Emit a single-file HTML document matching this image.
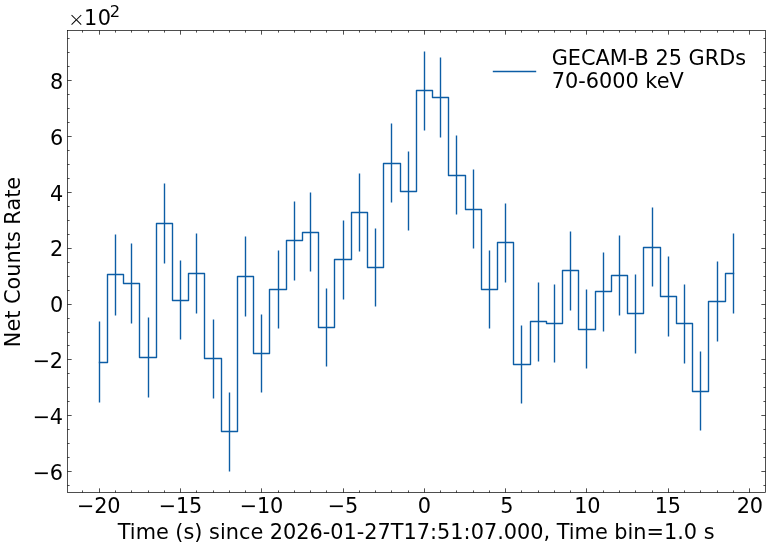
<!DOCTYPE html>
<html lang="en"><head><meta charset="utf-8"><title>GECAM-B light curve</title>
<style>
html,body{margin:0;padding:0;background:#fff;}
body{width:769px;height:547px;overflow:hidden;}
svg{display:block;}
text{font-family:"DejaVu Sans","Liberation Sans",sans-serif;font-size:20.83px;fill:#000;}
</style></head><body>
<svg width="769" height="547" viewBox="0 0 769 547">
<rect x="0" y="0" width="769" height="547" fill="#fff"/>
<path d="M82.50 492.50v-2.08M82.50 30.50v2.08M99.50 492.50v-4.17M99.50 30.50v4.17M115.50 492.50v-2.08M115.50 30.50v2.08M131.50 492.50v-2.08M131.50 30.50v2.08M148.50 492.50v-2.08M148.50 30.50v2.08M164.50 492.50v-2.08M164.50 30.50v2.08M180.50 492.50v-4.17M180.50 30.50v4.17M196.50 492.50v-2.08M196.50 30.50v2.08M213.50 492.50v-2.08M213.50 30.50v2.08M229.50 492.50v-2.08M229.50 30.50v2.08M245.50 492.50v-2.08M245.50 30.50v2.08M261.50 492.50v-4.17M261.50 30.50v4.17M278.50 492.50v-2.08M278.50 30.50v2.08M294.50 492.50v-2.08M294.50 30.50v2.08M310.50 492.50v-2.08M310.50 30.50v2.08M326.50 492.50v-2.08M326.50 30.50v2.08M343.50 492.50v-4.17M343.50 30.50v4.17M359.50 492.50v-2.08M359.50 30.50v2.08M375.50 492.50v-2.08M375.50 30.50v2.08M391.50 492.50v-2.08M391.50 30.50v2.08M408.50 492.50v-2.08M408.50 30.50v2.08M424.50 492.50v-4.17M424.50 30.50v4.17M440.50 492.50v-2.08M440.50 30.50v2.08M456.50 492.50v-2.08M456.50 30.50v2.08M473.50 492.50v-2.08M473.50 30.50v2.08M489.50 492.50v-2.08M489.50 30.50v2.08M505.50 492.50v-4.17M505.50 30.50v4.17M521.50 492.50v-2.08M521.50 30.50v2.08M538.50 492.50v-2.08M538.50 30.50v2.08M554.50 492.50v-2.08M554.50 30.50v2.08M570.50 492.50v-2.08M570.50 30.50v2.08M586.50 492.50v-4.17M586.50 30.50v4.17M603.50 492.50v-2.08M603.50 30.50v2.08M619.50 492.50v-2.08M619.50 30.50v2.08M635.50 492.50v-2.08M635.50 30.50v2.08M652.50 492.50v-2.08M652.50 30.50v2.08M668.50 492.50v-4.17M668.50 30.50v4.17M684.50 492.50v-2.08M684.50 30.50v2.08M700.50 492.50v-2.08M700.50 30.50v2.08M717.50 492.50v-2.08M717.50 30.50v2.08M733.50 492.50v-2.08M733.50 30.50v2.08M749.50 492.50v-4.17M749.50 30.50v4.17M67.50 485.50h2.08M765.50 485.50h-2.08M67.50 471.50h4.17M765.50 471.50h-4.17M67.50 457.50h2.08M765.50 457.50h-2.08M67.50 443.50h2.08M765.50 443.50h-2.08M67.50 429.50h2.08M765.50 429.50h-2.08M67.50 415.50h4.17M765.50 415.50h-4.17M67.50 401.50h2.08M765.50 401.50h-2.08M67.50 387.50h2.08M765.50 387.50h-2.08M67.50 373.50h2.08M765.50 373.50h-2.08M67.50 359.50h4.17M765.50 359.50h-4.17M67.50 345.50h2.08M765.50 345.50h-2.08M67.50 332.50h2.08M765.50 332.50h-2.08M67.50 318.50h2.08M765.50 318.50h-2.08M67.50 304.50h4.17M765.50 304.50h-4.17M67.50 290.50h2.08M765.50 290.50h-2.08M67.50 276.50h2.08M765.50 276.50h-2.08M67.50 262.50h2.08M765.50 262.50h-2.08M67.50 248.50h4.17M765.50 248.50h-4.17M67.50 234.50h2.08M765.50 234.50h-2.08M67.50 220.50h2.08M765.50 220.50h-2.08M67.50 206.50h2.08M765.50 206.50h-2.08M67.50 192.50h4.17M765.50 192.50h-4.17M67.50 178.50h2.08M765.50 178.50h-2.08M67.50 164.50h2.08M765.50 164.50h-2.08M67.50 150.50h2.08M765.50 150.50h-2.08M67.50 136.50h4.17M765.50 136.50h-4.17M67.50 122.50h2.08M765.50 122.50h-2.08M67.50 108.50h2.08M765.50 108.50h-2.08M67.50 94.50h2.08M765.50 94.50h-2.08M67.50 80.50h4.17M765.50 80.50h-4.17M67.50 66.50h2.08M765.50 66.50h-2.08M67.50 52.50h2.08M765.50 52.50h-2.08M67.50 38.50h2.08M765.50 38.50h-2.08" stroke="#000" stroke-width="0.69" fill="none"/>
<path d="M99.50 362.50H107.50V274.50H123.50V283.50H139.50V357.50H156.50V223.50H172.50V300.50H188.50V273.50H204.50V358.50H221.50V431.50H237.50V276.50H253.50V353.50H269.50V289.50H286.50V240.50H302.50V232.50H318.50V327.50H334.50V259.50H351.50V212.50H367.50V267.50H383.50V163.50H400.50V191.50H416.50V90.50H432.50V97.50H448.50V175.50H465.50V209.50H481.50V289.50H497.50V242.50H513.50V364.50H530.50V321.50H546.50V323.50H562.50V270.50H578.50V329.50H595.50V291.50H611.50V275.50H627.50V313.50H643.50V247.50H660.50V296.50H676.50V323.50H692.50V391.50H708.50V301.50H725.50V273.50H733.50" stroke="#0C5DA5" stroke-width="1.39" fill="none" stroke-linejoin="round" stroke-linecap="square"/>
<path d="M99.50 321.50V402.50M115.50 234.50V315.50M131.50 243.50V323.50M148.50 317.50V397.50M164.50 183.50V263.50M180.50 260.50V339.50M196.50 233.50V313.50M213.50 319.50V398.50M229.50 392.50V471.50M245.50 236.50V316.50M261.50 314.50V392.50M278.50 250.50V328.50M294.50 201.50V280.50M310.50 192.50V271.50M326.50 288.50V366.50M343.50 220.50V299.50M359.50 173.50V251.50M375.50 228.50V306.50M391.50 123.50V202.50M408.50 151.50V230.50M424.50 51.50V130.50M440.50 57.50V137.50M456.50 135.50V214.50M473.50 169.50V248.50M489.50 250.50V328.50M505.50 203.50V282.50M521.50 325.50V403.50M538.50 282.50V361.50M554.50 284.50V362.50M570.50 231.50V310.50M586.50 289.50V368.50M603.50 252.50V331.50M619.50 235.50V315.50M635.50 274.50V353.50M652.50 207.50V286.50M668.50 256.50V336.50M684.50 284.50V363.50M700.50 351.50V430.50M717.50 261.50V341.50M733.50 233.50V313.50" stroke="#0C5DA5" stroke-width="1.39" fill="none"/>
<rect x="67.5" y="30.5" width="698.0" height="462.00" fill="none" stroke="#000" stroke-width="0.69"/>
<text x="98.56" y="512.8" text-anchor="middle" letter-spacing="-0.27">−20</text>
<text x="180.45" y="512.8" text-anchor="middle" letter-spacing="-0.27">−15</text>
<text x="261.30" y="512.8" text-anchor="middle" letter-spacing="-0.27">−10</text>
<text x="342.89" y="512.8" text-anchor="middle" letter-spacing="-0.27">−5</text>
<text x="424.14" y="512.8" text-anchor="middle" letter-spacing="-0.27">0</text>
<text x="506.73" y="512.8" text-anchor="middle" letter-spacing="-0.27">5</text>
<text x="587.23" y="512.8" text-anchor="middle" letter-spacing="-0.27">10</text>
<text x="667.82" y="512.8" text-anchor="middle" letter-spacing="-0.27">15</text>
<text x="749.72" y="512.8" text-anchor="middle" letter-spacing="-0.27">20</text>
<text x="62.87" y="479.72" text-anchor="end" letter-spacing="-0.27">−6</text>
<text x="62.87" y="423.58" text-anchor="end" letter-spacing="-0.27">−4</text>
<text x="62.87" y="367.84" text-anchor="end" letter-spacing="-0.27">−2</text>
<text x="62.87" y="311.70" text-anchor="end" letter-spacing="-0.27">0</text>
<text x="62.87" y="256.36" text-anchor="end" letter-spacing="-0.27">2</text>
<text x="62.87" y="200.82" text-anchor="end" letter-spacing="-0.27">4</text>
<text x="62.87" y="144.88" text-anchor="end" letter-spacing="-0.27">6</text>
<text x="62.87" y="89.14" text-anchor="end" letter-spacing="-0.27">8</text>
<text x="67.9" y="25.9" style="font-weight:200;font-size:20.00px">×</text>
<text x="84.05" y="24.7">1</text>
<text x="97.8" y="24.7">0</text>
<text x="109.7" y="17.1" style="font-size:16.25px">2</text>
<text x="416.20" y="538.7" text-anchor="middle">Time (s) since 2026-01-27T17:51:07.000, Time bin=1.0 s</text>
<text transform="translate(20.2 262.00) rotate(-90)" text-anchor="middle">Net Counts Rate</text>
<path d="M492.8 71.5H536.2" stroke="#0C5DA5" stroke-width="1.39" fill="none"/>
<text x="551.7" y="64.7">GECAM-B 25 GRDs</text>
<text x="551.7" y="88.2">70-6000 keV</text>
</svg>
</body></html>
